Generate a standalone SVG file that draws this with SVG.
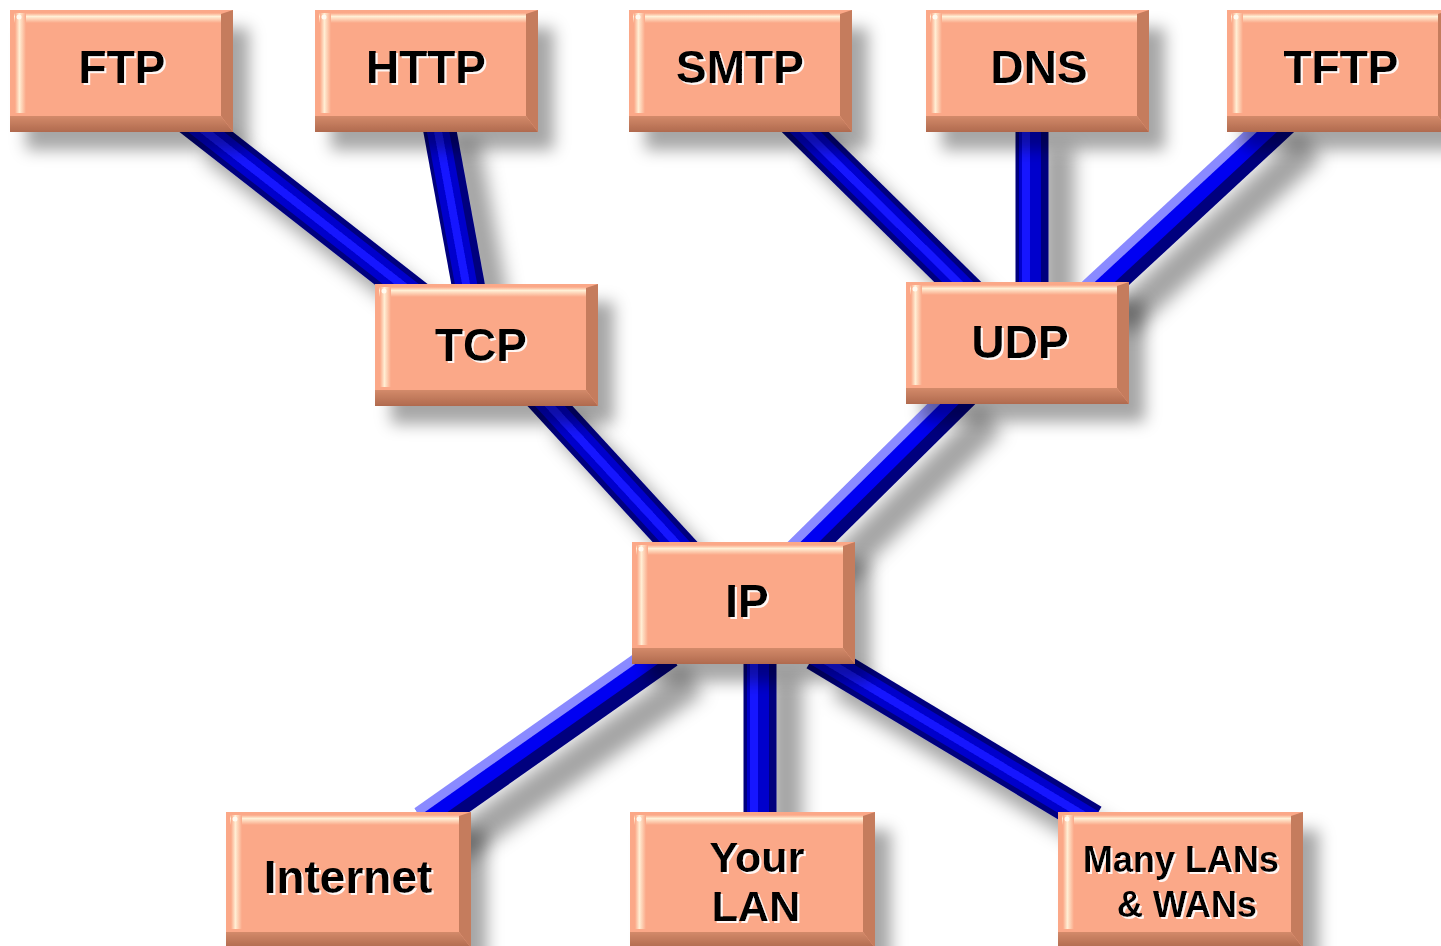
<svg xmlns="http://www.w3.org/2000/svg" xmlns:xlink="http://www.w3.org/1999/xlink" width="1441" height="946" viewBox="0 0 1441 946">
<defs>
<style>
.lbl{font-family:"Liberation Sans",Arial,sans-serif;font-weight:bold;font-size:46px;fill:#000;text-anchor:middle;filter:url(#thl)}
.base{stroke:#00007e;stroke-width:33;fill:none}
.body{stroke:#0000cc;stroke-width:22;fill:none}
.core{stroke:#1414ff;stroke-width:8;fill:none}
.hbody{stroke:#0000f2;stroke-width:18;fill:none}
.hl{stroke:#8a8aff;stroke-width:9;fill:none}
</style>
<filter id="bsh" x="-20%" y="-20%" width="160%" height="170%">
<feGaussianBlur in="SourceAlpha" stdDeviation="8"/>
<feOffset dx="16" dy="18" result="b"/>
<feFlood flood-color="#000" flood-opacity="0.35"/>
<feComposite in2="b" operator="in"/>
<feMerge><feMergeNode/><feMergeNode in="SourceGraphic"/></feMerge>
</filter>
<filter id="lsh" x="-10%" y="-10%" width="130%" height="130%">
<feGaussianBlur in="SourceAlpha" stdDeviation="9"/>
<feOffset dx="26" dy="28" result="b"/>
<feFlood flood-color="#000" flood-opacity="0.36"/>
<feComposite in2="b" operator="in"/>
<feMerge><feMergeNode/><feMergeNode in="SourceGraphic"/></feMerge>
</filter>
<filter id="thl" x="-10%" y="-10%" width="130%" height="140%">
<feOffset in="SourceAlpha" dx="2" dy="2" result="o"/>
<feFlood flood-color="#fff" flood-opacity="0.9"/>
<feComposite in2="o" operator="in"/>
<feMerge><feMergeNode/><feMergeNode in="SourceGraphic"/></feMerge>
</filter>
<linearGradient id="gb" x1="0" y1="0" x2="0" y2="1">
<stop offset="0" stop-color="#d38a6a"/>
<stop offset="1" stop-color="#b06a4e"/>
</linearGradient>
<linearGradient id="gt" x1="0" y1="0" x2="0" y2="1">
<stop offset="0" stop-color="#fba888"/>
<stop offset="0.35" stop-color="#fff0d6"/>
<stop offset="1" stop-color="#fba888"/>
</linearGradient>
<linearGradient id="gl" x1="0" y1="0" x2="1" y2="0">
<stop offset="0" stop-color="#fba888"/>
<stop offset="0.4" stop-color="#ffeed4"/>
<stop offset="1" stop-color="#fba888"/>
</linearGradient>
<g id="boxS">
<rect x="0" y="0" width="223" height="122" fill="#fba888"/>
<rect x="4" y="3" width="207" height="10" fill="url(#gt)"/>
<rect x="5" y="3" width="11" height="100" fill="url(#gl)"/>
<polygon points="223,0 223,122 211,106 211,4" fill="#c57b5d"/>
<polygon points="0,122 223,122 211,106 0,106" fill="url(#gb)"/>
<circle cx="9" cy="7" r="2.5" fill="#fffaf0"/>
</g>
<g id="boxL">
<rect x="0" y="0" width="245" height="136" fill="#fba888"/>
<rect x="4" y="3" width="229" height="10" fill="url(#gt)"/>
<rect x="5" y="3" width="11" height="114" fill="url(#gl)"/>
<polygon points="245,0 245,136 233,120 233,4" fill="#c57b5d"/>
<polygon points="0,136 245,136 233,120 0,120" fill="url(#gb)"/>
<circle cx="9" cy="7" r="2.5" fill="#fffaf0"/>
</g>
</defs>
<rect width="1441" height="946" fill="#fff"/>

<g id="connectors" filter="url(#lsh)">
<!-- FTP - TCP -->
<line class="base" x1="187" y1="117" x2="420" y2="299"/>
<line class="body" x1="187" y1="117" x2="420" y2="299"/>
<line class="core" x1="187" y1="117" x2="420" y2="299"/>
<!-- HTTP - TCP -->
<line class="base" x1="437" y1="115" x2="471" y2="300"/>
<line class="body" x1="435" y1="115" x2="469" y2="300"/>
<line class="core" x1="435" y1="115" x2="469" y2="300"/>
<!-- SMTP - UDP -->
<line class="base" x1="790" y1="117" x2="972" y2="296"/>
<line class="body" x1="790" y1="117" x2="972" y2="296"/>
<line class="core" x1="790" y1="117" x2="972" y2="296"/>
<!-- DNS - UDP -->
<line class="base" x1="1032" y1="120" x2="1032" y2="295"/>
<line class="body" x1="1030" y1="120" x2="1030" y2="295"/>
<line class="core" x1="1026" y1="120" x2="1026" y2="295"/>
<!-- TFTP - UDP -->
<line class="base" x1="1285" y1="118" x2="1094" y2="295"/>
<line class="hbody" x1="1282" y1="115" x2="1091" y2="292"/>
<line class="hl" x1="1276" y1="108" x2="1085" y2="285"/>
<!-- TCP - IP -->
<line class="base" x1="538" y1="393" x2="687" y2="555"/>
<line class="body" x1="538" y1="393" x2="687" y2="555"/>
<line class="core" x1="538" y1="393" x2="687" y2="555"/>
<!-- UDP - IP -->
<line class="base" x1="965" y1="391" x2="799" y2="555"/>
<line class="hbody" x1="962" y1="388" x2="796" y2="552"/>
<line class="hl" x1="956" y1="382" x2="790" y2="546"/>
<!-- IP - Internet -->
<line class="base" x1="668" y1="652" x2="425" y2="823"/>
<line class="hbody" x1="665" y1="648" x2="422" y2="819"/>
<line class="hl" x1="660" y1="641" x2="417" y2="812"/>
<!-- IP - Your LAN -->
<line class="base" x1="760" y1="650" x2="760" y2="825"/>
<line class="body" x1="758" y1="650" x2="758" y2="825"/>
<line class="core" x1="754" y1="650" x2="754" y2="825"/>
<!-- IP - Many LANs -->
<line class="base" x1="815" y1="654" x2="1093" y2="821"/>
<line class="body" x1="815" y1="654" x2="1093" y2="821"/>
<line class="core" x1="815" y1="654" x2="1093" y2="821"/>
</g>

<g id="node-ftp" transform="translate(10,10)" filter="url(#bsh)">
<use xlink:href="#boxS" href="#boxS"/>
<text class="lbl" x="112" y="73">FTP</text>
</g>
<g id="node-http" transform="translate(315,10)" filter="url(#bsh)">
<use xlink:href="#boxS" href="#boxS"/>
<text class="lbl" x="111" y="73">HTTP</text>
</g>
<g id="node-smtp" transform="translate(629,10)" filter="url(#bsh)">
<use xlink:href="#boxS" href="#boxS"/>
<text class="lbl" x="111" y="73">SMTP</text>
</g>
<g id="node-dns" transform="translate(926,10)" filter="url(#bsh)">
<use xlink:href="#boxS" href="#boxS"/>
<text class="lbl" x="113" y="73">DNS</text>
</g>
<g id="node-tftp" transform="translate(1227,10)" filter="url(#bsh)">
<use xlink:href="#boxS" href="#boxS"/>
<text class="lbl" x="114" y="73">TFTP</text>
</g>
<g id="node-tcp" transform="translate(375,284)" filter="url(#bsh)">
<use xlink:href="#boxS" href="#boxS"/>
<text class="lbl" x="106" y="77">TCP</text>
</g>
<g id="node-udp" transform="translate(906,282)" filter="url(#bsh)">
<use xlink:href="#boxS" href="#boxS"/>
<text class="lbl" x="114" y="76">UDP</text>
</g>
<g id="node-ip" transform="translate(632,542)" filter="url(#bsh)">
<use xlink:href="#boxS" href="#boxS"/>
<text class="lbl" x="115" y="75">IP</text>
</g>
<g id="node-internet" transform="translate(226,812)" filter="url(#bsh)">
<use xlink:href="#boxL" href="#boxL"/>
<text class="lbl" x="122" y="81">Internet</text>
</g>
<g id="node-yourlan" transform="translate(630,812)" filter="url(#bsh)">
<use xlink:href="#boxL" href="#boxL"/>
<text class="lbl" x="127" y="60" style="font-size:43px">Your</text>
<text class="lbl" x="126" y="109" style="font-size:43px">LAN</text>
</g>
<g id="node-many" transform="translate(1058,812)" filter="url(#bsh)">
<use xlink:href="#boxL" href="#boxL"/>
<text class="lbl" x="123" y="60" style="font-size:36px">Many LANs</text>
<text class="lbl" x="129" y="105" style="font-size:36px">&amp; WANs</text>
</g>
</svg>
